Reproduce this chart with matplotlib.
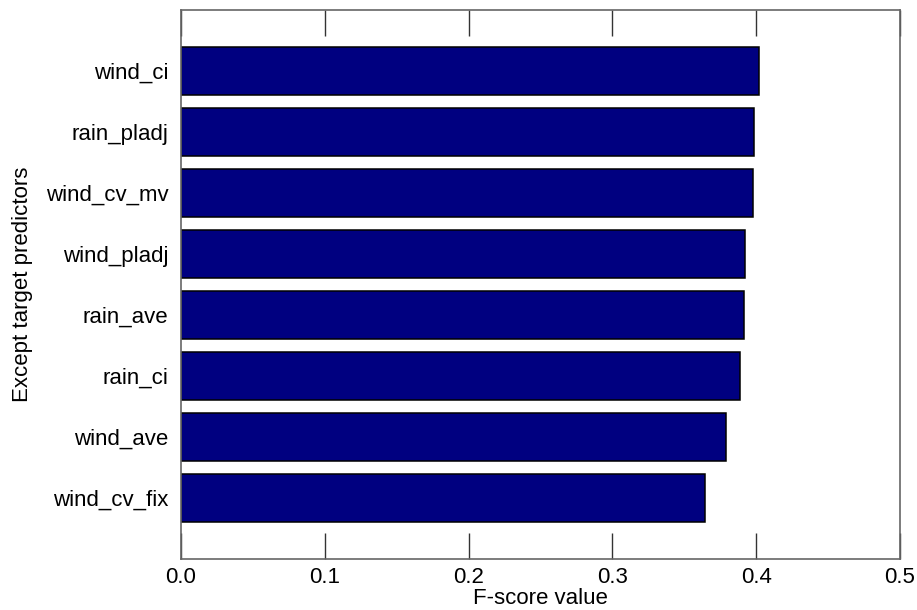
import matplotlib
matplotlib.use("Agg")
import matplotlib.pyplot as plt
import numpy as np

plt.rcParams["font.family"] = ["Liberation Sans", "DejaVu Sans"]

# F-score per predictor, listed bottom to top
predictors = [
    "wind_cv_fix",
    "wind_ave",
    "rain_ci",
    "rain_ave",
    "wind_pladj",
    "wind_cv_mv",
    "rain_pladj",
    "wind_ci",
]
f_scores = [0.3643, 0.3791, 0.3887, 0.3914, 0.3919, 0.3977, 0.3984, 0.4019]
x_ticks = [0.0, 0.1, 0.2, 0.3, 0.4, 0.5]

fig = plt.figure(figsize=(9.17, 6.10), dpi=100)
ax = fig.add_axes([0.1974, 0.0836, 0.7841, 0.9000])

y_pos = np.arange(len(predictors))
ax.barh(
    y_pos,
    f_scores,
    height=0.8,
    color="#000080",
    edgecolor="black",
    linewidth=1.1,
)

ax.set_xlim(0, 0.5)
ax.set_ylim(-1, len(predictors))
ax.set_xticks(x_ticks)
ax.set_xticklabels([f"{t:.1f}" for t in x_ticks])
ax.set_yticks(y_pos)
ax.set_yticklabels(predictors)

ax.tick_params(
    axis="x",
    direction="in",
    length=19,
    width=1.0,
    color="#333333",
    top=True,
    labelsize=16,
    pad=6,
)
ax.tick_params(axis="y", length=0, labelsize=16, pad=9)

for spine in ax.spines.values():
    spine.set_color("#666666")
    spine.set_linewidth(1.2)

ax.set_xlabel("F-score value", fontsize=16, labelpad=0)
ax.set_ylabel("Except target predictors", fontsize=16, labelpad=9)

fig.savefig("out.png", dpi=100)
